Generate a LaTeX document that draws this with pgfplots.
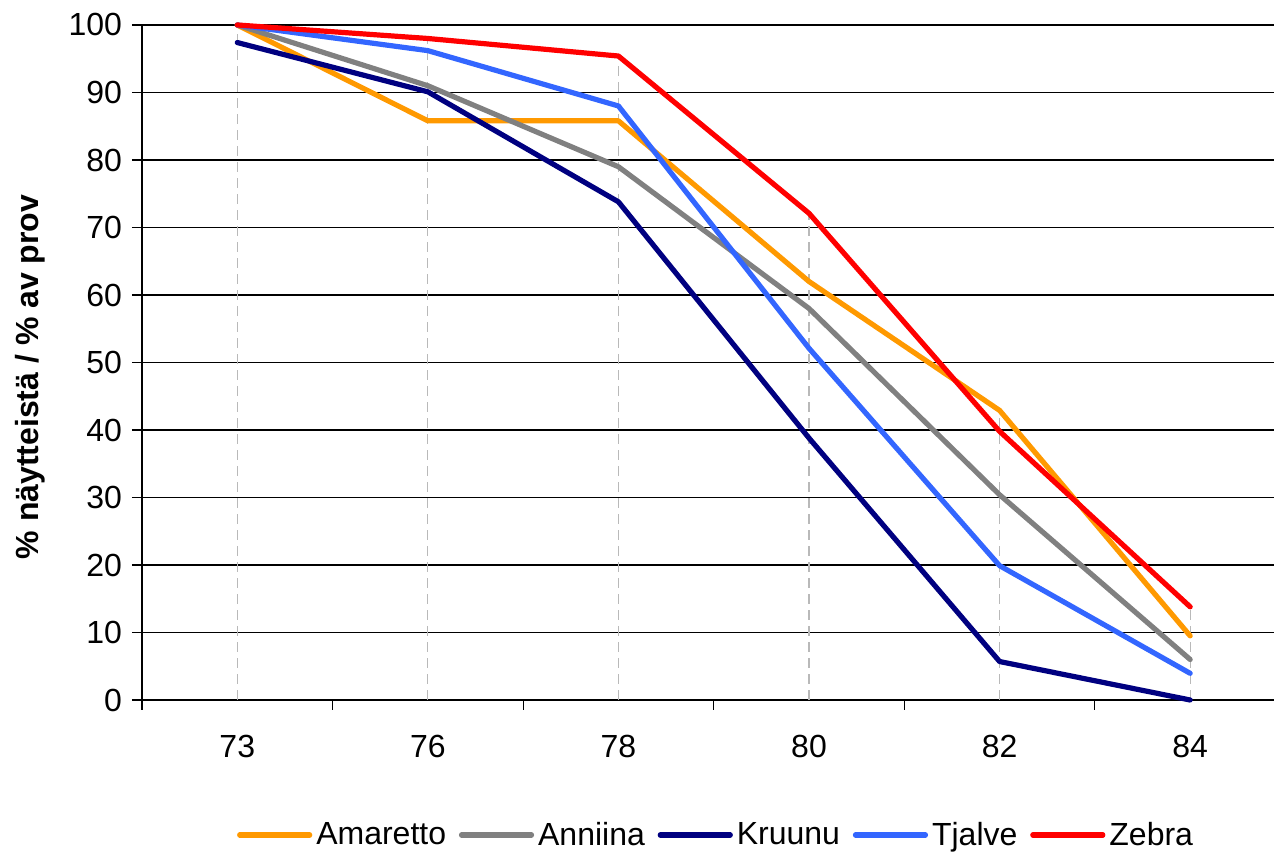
\documentclass[border=0pt]{standalone}
\usepackage{pgfplots}
\pgfplotsset{compat=1.18}
\usepackage{fontspec}
\setmainfont{Liberation Sans}
\definecolor{cAma}{HTML}{FF9900}
\definecolor{cAnn}{HTML}{808080}
\definecolor{cKru}{HTML}{000080}
\definecolor{cTja}{HTML}{3366FF}
\definecolor{cZeb}{HTML}{FF0000}
\begin{document}
\begin{tikzpicture}
\begin{axis}[
  scale only axis,
  width=566pt, height=337.5pt,
  xmin=-0.5, xmax=5.44,
  ymin=0, ymax=100,
  axis lines=left,
  axis line style={-, black, line width=0.9pt},
  xtick={0,1,2,3,4,5},
  xticklabels={73,76,78,80,82,84},
  minor xtick={-0.5,0.5,1.5,2.5,3.5,4.5},
  ytick={0,10,...,100},
  tick align=outside,
  major x tick style={draw=none},
  minor tick length=5pt,
  major tick length=5pt,
  tick style={black, line width=0.6pt},
  ymajorgrids,
  grid style={black, line width=0.6pt},
  /pgf/number format/assume math mode=true,
  tick label style={font=\fontsize{16}{18}\selectfont},
  xticklabel style={yshift=-9pt},
  yticklabel style={xshift=-1.5pt},
  ylabel={\% näytteistä / \% av prov},
  ylabel style={font=\bfseries\fontsize{16}{18}\selectfont, at={(axis description cs:-0.0989,0.4785)}, anchor=center},
  legend style={at={(axis description cs:0.508,-0.2)}, anchor=center, draw=none, fill=none,
    legend columns=5, font=\fontsize{16}{18}\selectfont,
    /tikz/every even column/.append style={column sep=4.4pt}},
  legend image code/.code={\draw[#1, line cap=round] (0pt,0pt) -- (35pt,0pt);},
  clip=false,
]
\addplot[ycomb, forget plot, gray!55, dashed, dash pattern=on 5pt off 3pt, line width=0.6pt]
  coordinates {(0,100)(1,98.0)(2,95.4)(3,72.1)(4,42.9)(5,13.8)};
\addplot[cAma, line width=2.6pt, line cap=round, line join=round] coordinates {(0,100)(1,85.8)(2,85.8)(3,62.0)(4,42.9)(5,9.5)};
\addlegendentry{Amaretto}
\addplot[cAnn, line width=2.6pt, line cap=round, line join=round] coordinates {(0,100)(1,91.0)(2,79.0)(3,58.0)(4,30.4)(5,6.0)};
\addlegendentry{Anniina}
\addplot[cKru, line width=2.6pt, line cap=round, line join=round] coordinates {(0,97.4)(1,90.1)(2,73.8)(3,38.8)(4,5.7)(5,0)};
\addlegendentry{Kruunu}
\addplot[cTja, line width=2.6pt, line cap=round, line join=round] coordinates {(0,100)(1,96.2)(2,88.0)(3,52.1)(4,19.9)(5,3.95)};
\addlegendentry{Tjalve}
\addplot[cZeb, line width=2.6pt, line cap=round, line join=round] coordinates {(0,100)(1,98.0)(2,95.4)(3,72.1)(4,39.8)(5,13.8)};
\addlegendentry{Zebra}
\end{axis}
\pgfresetboundingbox
\path ([xshift=-71pt,yshift=-77pt]current axis.south west) rectangle ([yshift=12.5pt]current axis.north east);
\end{tikzpicture}
\end{document}
